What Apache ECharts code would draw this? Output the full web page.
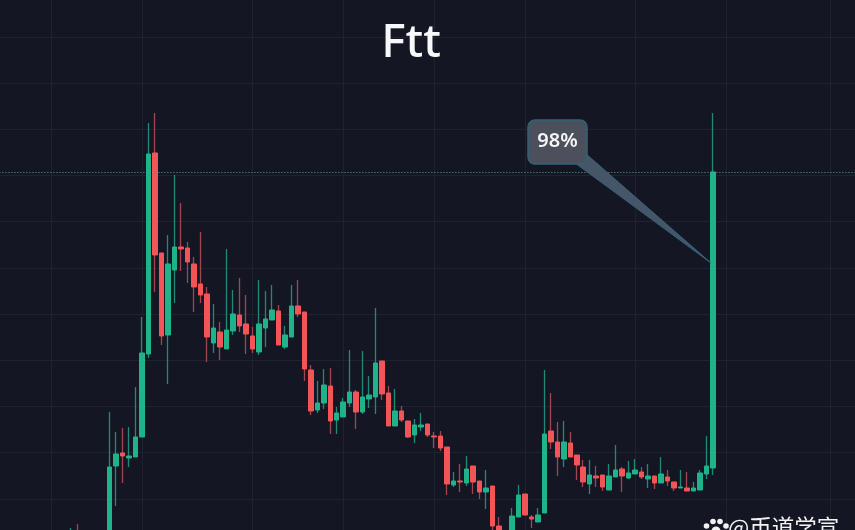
<!DOCTYPE html>
<html>
<head>
<meta charset="utf-8">
<title>Ftt</title>
<style>
  html, body { margin: 0; padding: 0; background: #141723; }
  #chart { width: 855px; height: 530px; }
</style>
<script src="https://cdn.jsdelivr.net/npm/echarts@6/dist/echarts.min.js"></script>
</head>
<body>
<div id="chart"></div>
<script>
// Velas, una por sesion. El eje de precios no aparece, asi que la escala es relativa
const titleText = 'Ftt';
const calloutText = '98%';
const watermarkText = '@币道学宣';

const firstSession = 5;
const opens = [0.3, 0.5, 0.3, 0.6, 0.4, 0.7, 0.5, 0.9, 0.6, 0.8, 0.5, 0.3,
    0.5, 7.9, 9.2, 8.7, 8.8, 10.8, 19.1, 39.2, 29.2, 21.0, 27.5, 29.8, 29.7, 28.1, 26.1, 25.1, 20.2, 21.3,
    19.6, 21.4, 23.0, 22.1, 20.9, 19.3, 21.7, 22.5, 23.4, 19.8, 20.8, 23.9, 23.3, 17.5, 13.5, 14.2, 15.9, 12.5, 12.8, 14.2,
    15.3, 13.3, 14.6, 14.8, 18.4, 15.2, 11.9, 13.4, 12.4, 11.0, 11.8, 12.1, 10.9, 10.9, 9.8, 6.0, 6.4, 6.2, 7.9, 6.4,
    5.3, 5.9, 1.9, 1.0, 0.5, 2.8, 5.1, 2.8, 2.3, 3.2, 11.4, 10.3, 8.6, 10.2, 9.0, 7.8, 6.1, 6.9, 7.0, 5.5,
    6.8, 7.6, 6.7, 7.1, 7.3, 6.6, 6.9, 6.2, 6.8, 6.3, 5.7, 5.7, 5.4, 5.5, 7.1, 7.7];
const closes = [0.5, 0.3, 0.6, 0.4, 0.7, 0.5, 0.9, 0.6, 0.8, 0.5, 0.3, 0.5,
    7.8, 9.1, 8.9, 8.9, 10.8, 19.2, 39.1, 29.0, 20.9, 28.1, 29.8, 29.6, 28.3, 25.8, 25.0, 20.8, 21.7, 19.8,
    21.5, 23.1, 21.9, 21.1, 19.6, 22.1, 22.6, 23.5, 20.0, 21.0, 23.9, 23.1, 17.6, 13.4, 14.2, 16.0, 12.4, 13.2, 14.3, 15.3,
    13.3, 14.8, 15.0, 18.2, 15.1, 11.9, 13.4, 12.5, 10.8, 12.0, 12.0, 11.0, 10.8, 9.7, 6.1, 6.4, 6.3, 7.6, 6.3, 5.3,
    5.7, 1.9, 1.0, 0.2, 2.9, 5.0, 3.0, 2.6, 3.0, 11.1, 10.3, 8.8, 10.3, 8.8, 8.0, 6.3, 7.0, 6.7, 5.8, 6.9,
    7.5, 6.9, 7.2, 7.5, 6.8, 6.9, 6.2, 7.1, 6.4, 5.7, 5.8, 5.4, 5.7, 7.2, 7.9, 37.3];
const lows = [0.1, 0.1, 0.2, 0.2, 0.2, 0.3, 0.3, 0.4, 0.3, 0.3, 0.1, 0.1,
    0.0, 3.9, 6.2, 7.8, 8.8, 10.8, 18.7, 25.3, 20.0, 16.1, 24.2, 27.4, 26.2, 23.3, 24.2, 18.3, 19.2, 18.5,
    19.6, 21.0, 21.3, 19.1, 19.2, 19.0, 19.8, 22.5, 20.0, 19.6, 20.8, 22.8, 16.4, 13.0, 13.2, 13.6, 11.1, 11.1, 12.8, 13.8,
    11.6, 13.1, 13.7, 13.1, 14.5, 11.9, 11.9, 12.3, 10.7, 10.2, 11.4, 10.8, 9.7, 9.4, 5.0, 5.8, 5.3, 5.9, 5.1, 4.6,
    3.6, 1.5, 0.0, 0.1, 0.3, 2.8, 3.0, 1.7, 2.3, 3.2, 9.6, 6.9, 7.8, 8.8, 6.5, 5.8, 5.1, 5.8, 5.4, 5.5,
    6.8, 5.3, 6.6, 7.1, 6.6, 5.7, 5.6, 6.2, 5.9, 5.4, 5.7, 5.4, 5.4, 5.5, 6.6, 7.0];
const highs = [0.8, 0.7, 0.9, 0.8, 1.0, 1.1, 1.7, 2.1, 1.2, 1.1, 0.9, 1.0,
    13.3, 11.3, 11.7, 11.8, 15.8, 22.8, 42.2, 43.2, 29.2, 31.0, 37.0, 34.2, 30.3, 28.8, 31.3, 25.8, 24.1, 22.3,
    29.6, 25.5, 26.7, 25.0, 21.8, 26.5, 25.4, 26.0, 24.0, 21.9, 26.0, 26.5, 23.3, 18.0, 16.4, 17.6, 17.7, 13.8, 14.7, 19.5,
    15.5, 19.4, 16.9, 23.7, 18.4, 15.9, 15.6, 13.9, 12.4, 12.6, 13.2, 12.1, 11.3, 11.4, 9.8, 7.3, 8.1, 8.9, 7.9, 6.4,
    7.5, 5.9, 2.8, 1.3, 3.7, 6.0, 5.1, 3.0, 3.7, 17.5, 15.2, 12.3, 12.4, 11.3, 9.0, 8.5, 8.5, 7.9, 7.0, 8.1,
    10.0, 7.8, 8.4, 8.6, 7.8, 8.1, 6.9, 8.8, 7.5, 6.3, 7.5, 7.3, 6.3, 7.5, 10.9, 43.2];

// Lineas de la cuadricula vertical (sesiones donde cambia el mes)
const monthLines = [8, 22, 39, 53, 67, 81, 98, 112, 128];
const gridStep = 4.62;
const refLevel = 37.3;

const upBody = '#1fb38a';
const downBody = '#f25457';
const upWick = '#1f8a78';
const downWick = '#a04650';
const gridColor = '#1f2330';

const categories = [];
for (let i = 0; i <= 132; i++) categories.push(i);

// Serie de cuerpos y serie de mechas por separado, porque las mechas son mas apagadas
function padded(values) {
    const out = categories.map(() => ['-', '-', '-', '-']);
    opens.forEach((o, i) => { out[firstSession + i] = values(i); });
    return out;
}
const wickData = padded(i => [opens[i], closes[i], lows[i], highs[i]]);
const bodyData = padded(i => [opens[i], closes[i], Math.min(opens[i], closes[i]), Math.max(opens[i], closes[i])]);

const chart = echarts.init(document.getElementById('chart'));

// Huella del logo, junto a la marca de agua
const pawDots = [[706.5, 526, 2.8], [713, 521.5, 2.8], [720, 521.5, 2.8], [726, 526, 2.8], [716, 531, 4.5]].map(d => ({
    type: 'circle', z: 22,
    shape: { cx: d[0], cy: d[1], r: d[2] },
    style: { fill: '#f2f2f2' }
}));

const option = {
    animation: false,
    backgroundColor: '#141723',
    grid: { left: -0.58, right: -0.7, top: -9.44, bottom: -15, outerBoundsMode: 'none' },
    xAxis: {
        type: 'category',
        data: categories,
        boundaryGap: false,
        axisLine: { show: false },
        axisTick: { show: false },
        axisLabel: { show: false },
        splitLine: {
            show: true,
            interval: idx => monthLines.includes(idx),
            lineStyle: { color: gridColor, width: 1 }
        }
    },
    yAxis: {
        type: 'value',
        min: 0,
        max: gridStep * 12,
        interval: gridStep,
        axisLine: { show: false },
        axisTick: { show: false },
        axisLabel: { show: false },
        splitLine: { show: true, lineStyle: { color: gridColor, width: 1 } }
    },
    series: [
        {
            name: 'wick',
            type: 'candlestick',
            data: wickData,
            barWidth: 1,
            z: 2,
            itemStyle: {
                color: upWick, color0: downWick,
                borderColor: upWick, borderColor0: downWick, borderWidth: 1.3
            },
            markLine: {
                silent: true,
                symbol: 'none',
                label: { show: false },
                lineStyle: { color: '#6a9c9a', type: [1, 2], width: 1 },
                data: [{ yAxis: refLevel }]
            }
        },
        {
            name: 'body',
            type: 'candlestick',
            data: bodyData,
            barWidth: 5,
            z: 3,
            itemStyle: {
                color: upBody, color0: downBody,
                borderColor: upBody, borderColor0: downBody, borderWidth: 1
            }
        }
    ],
    graphic: [
        {
            type: 'text', x: 411, y: 44, z: 20,
            style: {
                text: titleText,
                fill: '#f7f8f9',
                font: '500 46px "Noto Sans"',
                align: 'center',
                verticalAlign: 'middle'
            }
        },
        // Globo del porcentaje
        {
            type: 'polygon', z: 20,
            shape: { points: [[585, 153], [711, 263], [575, 163]] },
            style: { fill: '#465668', stroke: '#2f6478', lineWidth: 1 }
        },
        {
            type: 'rect', z: 21,
            shape: { x: 528, y: 120, width: 59, height: 44, r: 7 },
            style: { fill: '#4c4f5c', stroke: '#2f6478', lineWidth: 1.5 }
        },
        {
            type: 'text', z: 22, x: 557.5, y: 141,
            style: {
                text: calloutText,
                fill: '#f5f5f5',
                font: '600 20px "Noto Sans"',
                align: 'center',
                verticalAlign: 'middle'
            }
        },
        // Marca de agua de abajo a la derecha
        {
            type: 'text', z: 22, x: 728, y: 516,
            style: {
                text: watermarkText,
                fill: '#f2f2f2',
                font: '22.5px "Noto Sans CJK SC"'
            }
        }
    ].concat(pawDots)
};

chart.setOption(option);
</script>
</body>
</html>
